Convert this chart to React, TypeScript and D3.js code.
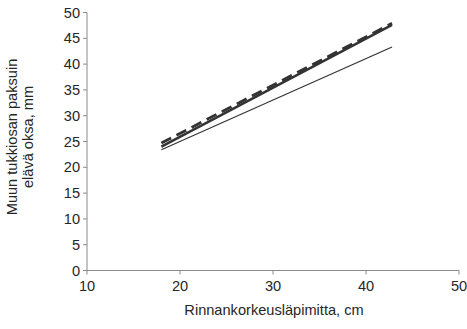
import React from "react";
import * as d3 from "d3";

const xTicks = [10, 20, 30, 40, 50];
const yTicks = [0, 5, 10, 15, 20, 25, 30, 35, 40, 45, 50];
const xRange = [18, 42.8];
const thinLine = [23.4, 43.3];
const thickLine = [24.0, 47.6];
const dashedLine = [24.7, 47.9];

const W = 467, H = 329;

export default function App() {
  const x = d3.scaleLinear().domain([10, 50]).range([87, 459]);
  const y = d3.scaleLinear().domain([0, 50]).range([270.5, 12.5]);
  const line = d3.line<[number, number]>().x(d => x(d[0])).y(d => y(d[1]));
  const mk = (v: number[]) => line([[xRange[0], v[0]], [xRange[1], v[1]]] as [number, number][]) || "";
  const font = "Arial, 'Liberation Sans', sans-serif";
  const axisColor = "#8a8a8a";
  return (
    <svg width={W} height={H} style={{ position: "absolute", left: 0, top: 0, background: "#fff" }}>
      <g fontFamily={font} fontSize={14.6} fill="#262626">
        <line x1={x(10)} x2={x(50)} y1={y(0)} y2={y(0)} stroke={axisColor} strokeWidth={1} />
        <line x1={x(10)} x2={x(10)} y1={y(0)} y2={y(50)} stroke={axisColor} strokeWidth={1} />
        {xTicks.map(t => (
          <g key={"x" + t}>
            <line x1={x(t)} x2={x(t)} y1={y(0)} y2={y(0) + 4} stroke={axisColor} />
            <text x={x(t)} y={y(0) + 20} textAnchor="middle">{t}</text>
          </g>
        ))}
        {yTicks.map(t => (
          <g key={"y" + t}>
            <line x1={x(10) - 4} x2={x(10)} y1={y(t)} y2={y(t)} stroke={axisColor} />
            <text x={x(10) - 7} y={y(t) + 5} textAnchor="end">{t}</text>
          </g>
        ))}
        <text x={274} y={315} textAnchor="middle">Rinnankorkeusläpimitta, cm</text>
        <g transform="translate(17,137) rotate(-90)">
          <text x={0} y={0} textAnchor="middle">Muun tukkiosan paksuin</text>
          <text x={0} y={16} textAnchor="middle">elävä oksa, mm</text>
        </g>
        <path d={mk(thinLine)} stroke="#333" strokeWidth={1.2} fill="none" />
        <path d={mk(thickLine)} stroke="#333" strokeWidth={2.5} fill="none" />
        <path d={mk(dashedLine)} stroke="#333" strokeWidth={2.8} fill="none" strokeDasharray="11,6" />
      </g>
    </svg>
  );
}
